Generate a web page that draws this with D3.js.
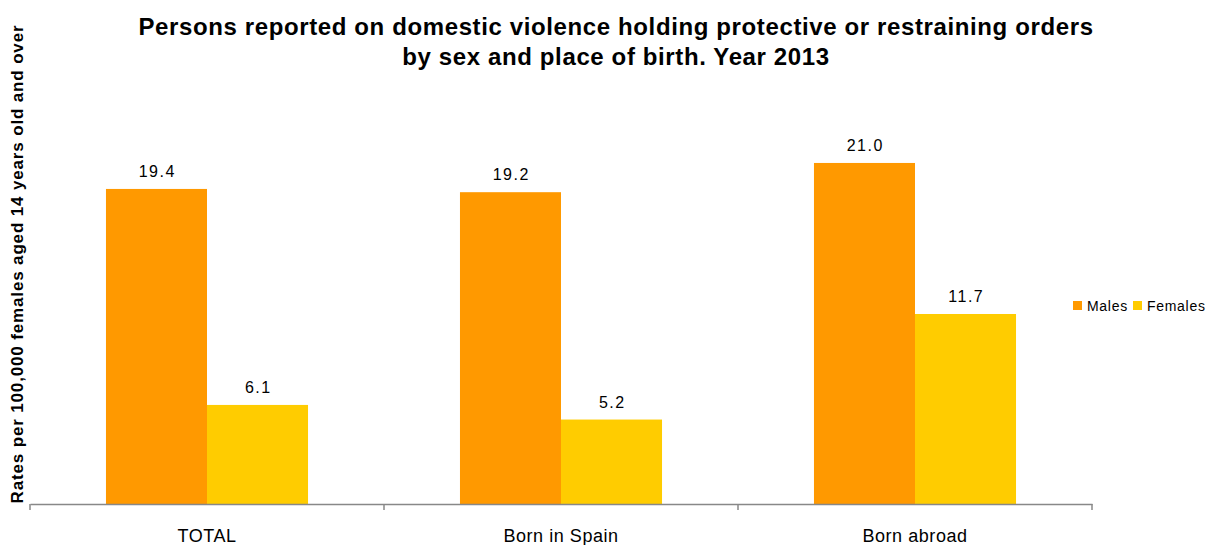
<!DOCTYPE html>
<html><head><meta charset="utf-8">
<script src="https://cdn.jsdelivr.net/npm/d3@7"></script>
<style>body{margin:0;background:#fff}svg{display:block}text{font-family:Arial,"Liberation Sans",sans-serif}</style>
</head><body><svg id="c" width="1213" height="545"></svg>
<script>
const categories = ["TOTAL", "Born in Spain", "Born abroad"];
const seriesNames = ["Males", "Females"];
const males = [19.4, 19.2, 21.0];
const females = [6.1, 5.2, 11.7];
const colors = ["#FF9900", "#FFCC00"];

const svg = d3.select("#c");
const x0 = d3.scaleBand().domain(categories).range([30, 1092]).padding(0);
const x1 = d3.scaleBand().domain(seriesNames).range([0, x0.bandwidth()]).paddingInner(0).paddingOuter(0.752);
const y = d3.scaleLinear().domain([0, 25]).range([504, 98]);

const data = categories.map((c, i) => ({cat: c, vals: [{s: "Males", v: males[i]}, {s: "Females", v: females[i]}]}));

const g = svg.append("g");
const grp = g.selectAll("g.cat").data(data).join("g").attr("transform", d => `translate(${x0(d.cat)},0)`);
grp.selectAll("rect").data(d => d.vals).join("rect")
  .attr("x", d => x1(d.s)).attr("width", x1.bandwidth())
  .attr("y", d => y(d.v)).attr("height", d => y(0) - y(d.v))
  .attr("fill", d => colors[seriesNames.indexOf(d.s)]);
grp.selectAll("text").data(d => d.vals).join("text")
  .attr("x", d => x1(d.s) + x1.bandwidth() / 2 + 0.75).attr("y", d => y(d.v) - 12)
  .attr("text-anchor", "middle").attr("font-size", 16).attr("letter-spacing", 1.5).attr("fill", "#000")
  .text(d => d.v.toFixed(1));

// x axis
const axis = svg.append("g").attr("transform", "translate(0,504)")
  .call(d3.axisBottom(x0).tickSize(0).tickPadding(24));
axis.select(".domain").attr("stroke", "#888").attr("stroke-width", 1.5);
axis.selectAll("text").attr("font-size", 18).attr("letter-spacing", 0.55).attr("fill", "#000")
  .attr("font-family", "Arial, Liberation Sans, sans-serif").attr("dy", null).attr("y", 38);
const edges = categories.map(c => x0(c)).concat([x0.range()[1]]);
svg.append("g").selectAll("line").data(edges).join("line")
  .attr("x1", d => d).attr("x2", d => d).attr("y1", 504).attr("y2", 510)
  .attr("stroke", "#888").attr("stroke-width", 1.5);

// title
const title = svg.append("text").attr("text-anchor", "middle").attr("font-size", 24).attr("font-weight", "bold")
  .attr("letter-spacing", 0.62).attr("fill", "#000");
title.append("tspan").attr("x", 616).attr("y", 35).text("Persons reported on domestic violence holding protective or restraining orders");
title.append("tspan").attr("x", 616).attr("y", 65).text("by sex and place of birth. Year 2013");

// y label
svg.append("text").attr("transform", "translate(23,264) rotate(-90)").attr("text-anchor", "middle")
  .attr("font-size", 17).attr("font-weight", "bold").attr("letter-spacing", 0.85).attr("fill", "#000")
  .text("Rates per 100,000 females aged 14 years old and over");

// legend
const leg = svg.append("g");
const legX = [1073, 1133];
seriesNames.forEach((s, i) => {
  leg.append("rect").attr("x", legX[i]).attr("y", 301).attr("width", 9).attr("height", 9).attr("fill", colors[i]);
  leg.append("text").attr("x", legX[i] + 14).attr("y", 311).attr("font-size", 14).attr("letter-spacing", 0.7).attr("fill", "#000").text(s);
});
</script></body></html>
